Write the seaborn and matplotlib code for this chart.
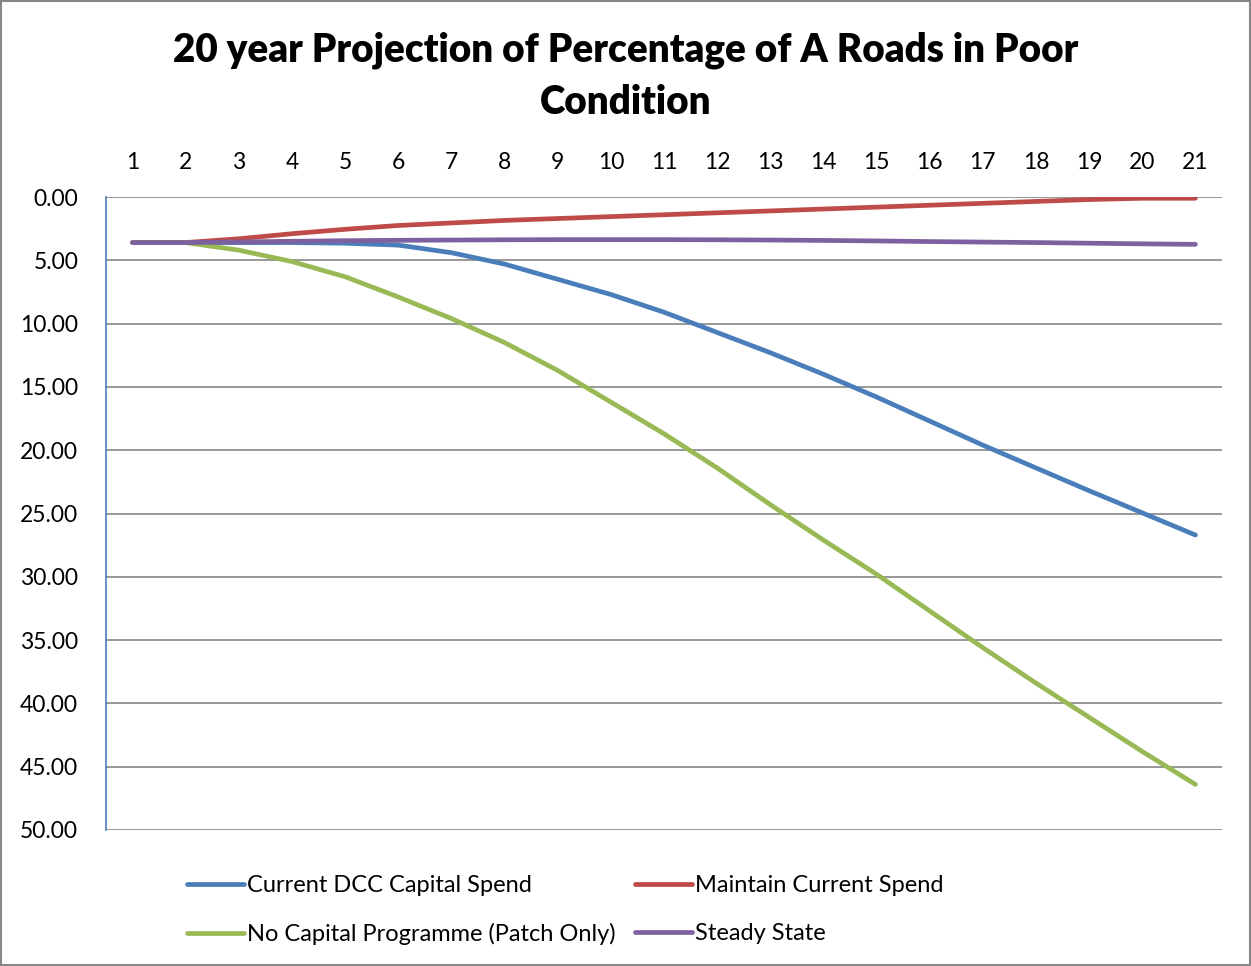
import numpy as np
import pandas as pd
import matplotlib
matplotlib.use("Agg")
import matplotlib.pyplot as plt
from matplotlib.lines import Line2D
import seaborn as sns

years = list(range(1, 22))
current_dcc = [3.6, 3.6, 3.6, 3.6, 3.65, 3.8, 4.4, 5.3, 6.5, 7.7, 9.1, 10.7, 12.3, 14.0, 15.8, 17.7, 19.6, 21.4, 23.2, 24.95, 26.7]
maintain = [3.6, 3.6, 3.3, 2.9, 2.55, 2.25, 2.05, 1.85, 1.7, 1.55, 1.4, 1.25, 1.1, 0.95, 0.8, 0.65, 0.5, 0.35, 0.2, 0.1, 0.1]
no_capital = [3.6, 3.6, 4.2, 5.1, 6.3, 7.9, 9.6, 11.5, 13.7, 16.2, 18.7, 21.4, 24.3, 27.1, 29.8, 32.7, 35.6, 38.4, 41.1, 43.8, 46.4]
steady = [3.6, 3.6, 3.55, 3.5, 3.45, 3.42, 3.4, 3.38, 3.37, 3.37, 3.37, 3.38, 3.4, 3.43, 3.47, 3.52, 3.56, 3.6, 3.65, 3.7, 3.74]

series_names = ["Current DCC Capital Spend", "Maintain Current Spend",
                "No Capital Programme (Patch Only)", "Steady State"]
series_values = [current_dcc, maintain, no_capital, steady]
colors = ["#4A7EBB", "#BE4B48", "#98B954", "#7D60A0"]

df = pd.DataFrame({
    "year": years * 4,
    "value": sum(series_values, []),
    "series": sum([[n] * len(years) for n in series_names], []),
})

sns.set_style("white")
plt.rcParams["font.family"] = ["Lato", "DejaVu Sans"]
plt.rcParams["text.color"] = "black"
plt.rcParams["xtick.color"] = "black"
plt.rcParams["ytick.color"] = "black"

fig = plt.figure(figsize=(12.51, 9.66), dpi=100)
ax = fig.add_axes([106 / 1251, 1 - 830 / 966, (1222 - 106) / 1251, (830 - 197) / 966])

sns.lineplot(data=df, x="year", y="value", hue="series", hue_order=series_names,
             palette=colors, linewidth=3.4, ax=ax, legend=False,
             solid_capstyle="round")

ax.set_xlim(0.5, 21.5)
ax.set_ylim(50, 0)
ax.set_yticks(np.arange(0, 51, 5))
ax.set_yticklabels([f"{v:.2f}" for v in np.arange(0, 51, 5)], fontsize=16.5)
ax.set_xticks(years)
ax.set_xticklabels([str(y) for y in years], fontsize=16.5)
ax.xaxis.tick_top()
ax.tick_params(axis="x", length=0, pad=17)
ax.tick_params(axis="y", length=0, pad=20)
ax.set_xlabel("")
ax.set_ylabel("")
ax.grid(axis="y", color="#868686", linewidth=1.2)
ax.grid(axis="x", visible=False)
ax.set_axisbelow(True)
for side in ["top", "right", "bottom"]:
    ax.spines[side].set_visible(False)
ax.spines["left"].set_color("#4A7EBB")
ax.spines["left"].set_linewidth(1.2)

fig.text(0.5, 1 - 50 / 966, "20 year Projection of Percentage of A Roads in Poor",
         ha="center", va="center", fontsize=27.8, fontweight="heavy")
fig.text(0.5, 1 - 102 / 966, "Condition",
         ha="center", va="center", fontsize=27.8, fontweight="heavy")

order = [0, 2, 1, 3]
handles = [Line2D([], [], color=colors[i], linewidth=3.4, solid_capstyle="round") for i in order]
labels = [series_names[i] for i in order]
fig.legend(handles, labels, loc="center left",
           bbox_to_anchor=(166 / 1251, 1 - 910 / 966), ncol=2, frameon=False,
           fontsize=17, handlelength=2.4, handletextpad=0.15, columnspacing=0.8,
           labelspacing=1.15)

border = plt.Rectangle((0.001, 0.001), 0.998, 0.998, transform=fig.transFigure,
                       fill=False, edgecolor="#868686", linewidth=1.5)
fig.patches.append(border)

fig.savefig("out.png", dpi=100)
